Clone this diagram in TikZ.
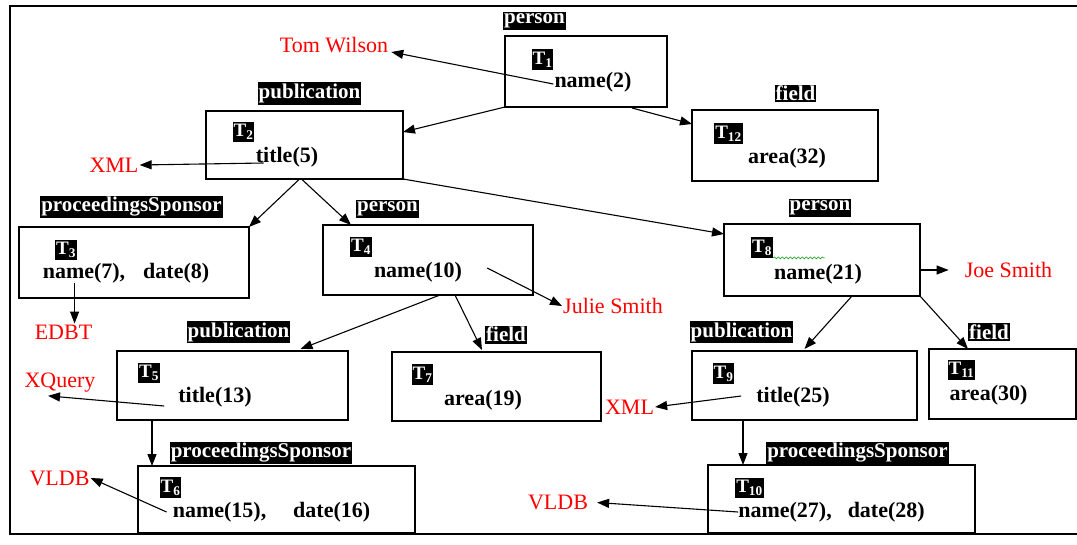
\documentclass[tikz,border=0pt]{standalone}
\usepackage{fontspec}
\setmainfont{Liberation Serif}[Ligatures={TeX,NoCommon}]
\usetikzlibrary{arrows.meta,calc,decorations.pathmorphing}

\tikzset{
  tbox/.style={draw, line width=2.5pt, anchor=north west, inner sep=0pt, outer sep=0pt},
  tag/.style={fill=black, text=white, inner xsep=1pt, inner ysep=1.5pt,
              font=\fontsize{21}{22}\selectfont\bfseries},
  tid/.style={fill=black, text=white, inner xsep=1pt, inner ysep=2.5pt,
              font=\fontsize{19}{20}\selectfont\bfseries},
  attr/.style={inner sep=0pt, font=\fontsize{22}{24}\selectfont\bfseries},
  val/.style={inner sep=1pt, text=red, font=\fontsize{22}{24}\selectfont},
  link/.style={line width=1.1pt, -{Triangle[length=12pt,width=9pt]}},
}

\begin{document}
\begin{tikzpicture}[x=1pt,y=-1pt]
\useasboundingbox (0,0) rectangle (1077,544);

% outer frame (open on the right)
\coordinate (fr1) at (1077,6);
\coordinate (fr2) at (10,6);
\coordinate (fr3) at (10,534);
\coordinate (fr4) at (1077,534);
\draw[line width=1.6pt] (fr1) -- (fr2) -- (fr3) -- (fr4);

% tree-pattern boxes
\node[tbox, minimum width=162, minimum height=71] (b1)  at (505,36)  {};
\node[tbox, minimum width=197, minimum height=68] (b2)  at (206,111) {};
\node[tbox, minimum width=186, minimum height=71] (b12) at (692,110) {};
\node[tbox, minimum width=230, minimum height=71] (b3)  at (19,227)  {};
\node[tbox, minimum width=210, minimum height=70] (b4)  at (323,225) {};
\node[tbox, minimum width=196, minimum height=72] (b8)  at (724,224) {};
\node[tbox, minimum width=231, minimum height=69] (b5)  at (117,351) {};
\node[tbox, minimum width=209, minimum height=69] (b7)  at (392,352) {};
\node[tbox, minimum width=225, minimum height=69] (b9)  at (692,351) {};
\node[tbox, minimum width=147, minimum height=70] (b11) at (929,349) {};
\node[tbox, minimum width=277, minimum height=67] (b6)  at (138,466) {};
\node[tbox, minimum width=267, minimum height=68] (b10) at (708,465) {};

% element tags above the boxes
\node[tag] (g1)  at (534.5,21)  {person};
\node[tag] (g2)  at (309.5,93.5){publication};
\node[tag] (g12) at (795.5,93.5){field};
\node[tag] (g3)  at (131.5,207) {proceedingsSponsor};
\node[tag] (g4)  at (387.5,209) {person};
\node[tag] (g8)  at (820,208)   {person};
\node[tag] (g5)  at (238.5,332) {publication};
\node[tag] (g7)  at (506,334.5) {field};
\node[tag] (g9)  at (741.5,332) {publication};
\node[tag] (g11) at (989,332)   {field};
\node[tag] (g6)  at (261,453)   {proceedingsSponsor};
\node[tag] (g10) at (857.5,453) {proceedingsSponsor};

% tuple identifiers
\node[tid] (i1)  at (542.5,59.5) {T\textsubscript{1}};
\node[tid] (i2)  at (243.5,132)  {T\textsubscript{2}};
\node[tid] (i12) at (728.5,133.5){T\textsubscript{12}};
\node[tid] (i3)  at (66,250)     {T\textsubscript{3}};
\node[tid] (i4)  at (361,247)    {T\textsubscript{4}};
\node[tid] (i8)  at (762,247.5)  {T\textsubscript{8}};
\node[tid] (i5)  at (149,373)    {T\textsubscript{5}};
\node[tid] (i7)  at (422.5,374.5){T\textsubscript{7}};
\node[tid] (i9)  at (723.5,373.5){T\textsubscript{9}};
\node[tid] (i11) at (961.5,370)  {T\textsubscript{11}};
\node[tid] (i6)  at (170.5,487.5){T\textsubscript{6}};
\node[tid] (i10) at (749.5,488)  {T\textsubscript{10}};

% spell-check squiggle next to T8
\draw[green!60!black, line width=0.5pt, decorate,
      decoration={snake, amplitude=1pt, segment length=4pt}]
  (i8.south east) -- ++(52,0) coordinate (sq);

% attributes
\node[attr] (n1)  at (593,82)    {name(2)};
\node[attr] (t2)  at (287,157)   {title(5)};
\node[attr] (a12) at (787,158)   {area(32)};
\node[attr] (n3)  at (126,273)   {name(7),\hspace{18pt}date(8)};
\node[attr] (n4)  at (418,272)   {name(10)};
\node[attr] (n8)  at (818,274)   {name(21)};
\node[attr] (t5)  at (215,397)   {title(13)};
\node[attr] (a7)  at (483,400)   {area(19)};
\node[attr] (t9)  at (793,397)   {title(25)};
\node[attr] (a11) at (988.5,395) {area(30)};
\node[attr] (n6)  at (271.5,512) {name(15),\hspace{27pt}date(16)};
\node[attr] (n10) at (831.5,512) {name(27),\hspace{16pt}date(28)};

% values
\node[val] (tom)   at (334,45)    {Tom Wilson};
\node[val] (xml1)  at (114,165)   {XML};
\node[val] (edbt)  at (63.5,332)  {EDBT};
\node[val] (julie) at (613,306)   {Julie Smith};
\node[val] (joe)   at (1008.5,270){Joe Smith};
\node[val] (xq)    at (60,383)    {XQuery};
\node[val] (vldb1) at (59.5,478)  {VLDB};
\node[val] (xml2)  at (629.5,407) {XML};
\node[val] (vldb2) at (558,502)   {VLDB};

% parent-child edges
\draw[link] (b1.south west) -- ($(b2.east)+(0,-13)$);
\draw[link] ($(b1.south)+(46,1)$) -- ($(b12.west)+(0,-21.5)$);
\draw[link] ($(b2.south)+(-6,1)$) -- (b3.north east);
\draw[link] ($(b2.south)+(-2,1)$) -- ($(b4.north west)+(28,0)$);
\draw[link] (b2.south east) -- ($(b8.west)+(0,-26)$);
\draw[link] ($(b4.south)+(12,0)$) -- ($(b5.north)+(68,-2)$);
\draw[link] ($(b4.south)+(27,0)$) -- ($(b7.north)+(-14.5,-2)$);
\draw[link] ($(b8.south)+(30,0)$) -- ($(b9.north)+(0,-2)$);
\draw[link] (b8.south east) -- ($(b11.north west)+(39,0)$);
\draw[link] ($(b5.south west)+(35,0)$) coordinate (p5) -- (p5 |- b6.north);
\draw[link] ($(b9.south west)+(51,0)$) coordinate (p9) -- (p9 |- b10.north);

% attribute-value edges
\draw[link] ($(n1.west)+(-1,2)$) -- ($(tom.south east)+(2,-2)$);
\draw[link] ($(t2.west)+(8,6)$) -- (xml1.east);
\draw[link] ($(n3.south west)+(32,0)$) coordinate (p3) -- (p3 |- edbt.north);
\draw[link] ($(n4.east)+(25,-4)$) -- (julie.west);
\draw[link, shorten >=15pt] ($(b8.east)+(0,10)$) -- (joe.west);
\draw[link] ($(t5.west)+(-14,9)$) -- ($(xq.south)+(-12,2)$);
\draw[link] ($(n6.west)+(-6,0)$) -- (vldb1.east);
\draw[link] ($(t9.west)+(-15,-1)$) -- (xml2.east);
\draw[link, shorten >=8pt] (n10.west) -- (vldb2.east);
\end{tikzpicture}
\end{document}
